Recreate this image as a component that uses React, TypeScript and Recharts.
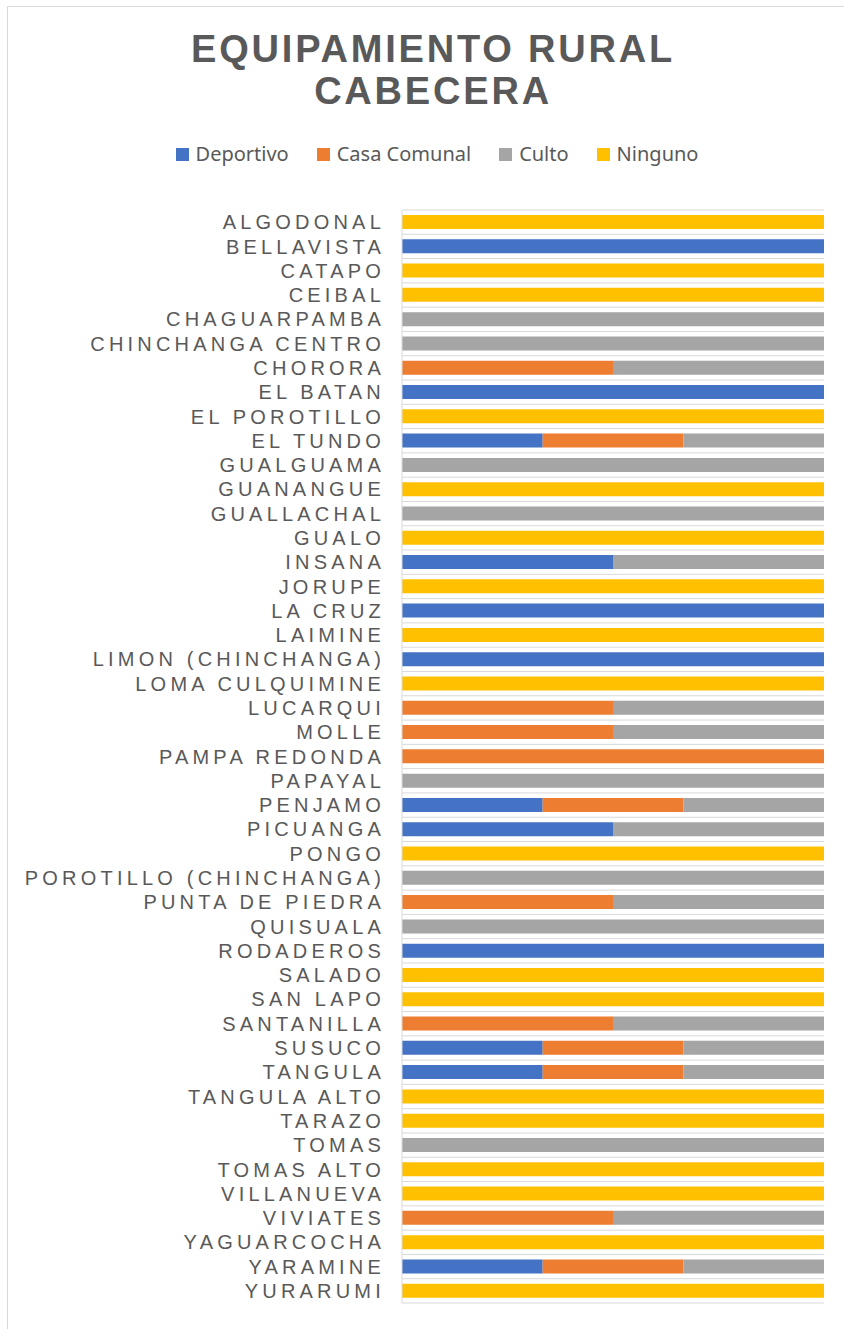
import React from 'react';
import { BarChart, Bar, XAxis, YAxis, CartesianGrid, Legend } from 'recharts';

// localidades, de arriba hacia abajo
const categories = [
  'ALGODONAL', 'BELLAVISTA', 'CATAPO', 'CEIBAL', 'CHAGUARPAMBA', 'CHINCHANGA CENTRO',
  'CHORORA', 'EL BATAN', 'EL POROTILLO', 'EL TUNDO', 'GUALGUAMA', 'GUANANGUE',
  'GUALLACHAL', 'GUALO', 'INSANA', 'JORUPE', 'LA CRUZ', 'LAIMINE',
  'LIMON (CHINCHANGA)', 'LOMA CULQUIMINE', 'LUCARQUI', 'MOLLE', 'PAMPA REDONDA', 'PAPAYAL',
  'PENJAMO', 'PICUANGA', 'PONGO', 'POROTILLO (CHINCHANGA)', 'PUNTA DE PIEDRA', 'QUISUALA',
  'RODADEROS', 'SALADO', 'SAN LAPO', 'SANTANILLA', 'SUSUCO', 'TANGULA',
  'TANGULA ALTO', 'TARAZO', 'TOMAS', 'TOMAS ALTO', 'VILLANUEVA', 'VIVIATES',
  'YAGUARCOCHA', 'YARAMINE', 'YURARUMI',
];

const deportivo = [
  0, 1, 0, 0, 0, 0, 0, 1, 0, 1, 0, 0, 0, 0, 1, 0, 1, 0, 1, 0, 0, 0, 0, 0,
  1, 1, 0, 0, 0, 0, 1, 0, 0, 0, 1, 1, 0, 0, 0, 0, 0, 0, 0, 1, 0,
];
const casaComunal = [
  0, 0, 0, 0, 0, 0, 1, 0, 0, 1, 0, 0, 0, 0, 0, 0, 0, 0, 0, 0, 1, 1, 1, 0,
  1, 0, 0, 0, 1, 0, 0, 0, 0, 1, 1, 1, 0, 0, 0, 0, 0, 1, 0, 1, 0,
];
const culto = [
  0, 0, 0, 0, 1, 1, 1, 0, 0, 1, 1, 0, 1, 0, 1, 0, 0, 0, 0, 0, 1, 1, 0, 1,
  1, 1, 0, 1, 1, 1, 0, 0, 0, 1, 1, 1, 0, 0, 1, 0, 0, 1, 0, 1, 0,
];
const ninguno = [
  1, 0, 1, 1, 0, 0, 0, 0, 1, 0, 0, 1, 0, 1, 0, 1, 0, 1, 0, 1, 0, 0, 0, 0,
  0, 0, 1, 0, 0, 0, 0, 1, 1, 0, 0, 0, 1, 1, 0, 1, 1, 0, 1, 0, 1,
];

const series = [
  { key: 'deportivo', name: 'Deportivo', color: '#4472C4' },
  { key: 'casaComunal', name: 'Casa Comunal', color: '#ED7D31' },
  { key: 'culto', name: 'Culto', color: '#A5A5A5' },
  { key: 'ninguno', name: 'Ninguno', color: '#FFC000' },
];

const data = categories.map((name, i) => ({
  name,
  deportivo: deportivo[i],
  casaComunal: casaComunal[i],
  culto: culto[i],
  ninguno: ninguno[i],
}));

const TEXT = '#595959';
const GRID = '#d9d9d9';
const MARGIN = { top: 210, right: 20, bottom: 26, left: 0 };

const renderLegend = () => (
  <div
    style={{
      display: 'flex',
      justifyContent: 'center',
      gap: 28,
      fontFamily: '"Noto Sans", sans-serif',
      fontSize: 20,
      lineHeight: '24px',
      color: TEXT,
    }}
  >
    {series.map((s) => (
      <span key={s.key} style={{ display: 'flex', alignItems: 'center' }}>
        <span style={{ width: 13, height: 13, background: s.color, marginRight: 7 }} />
        {s.name}
      </span>
    ))}
  </div>
);

export default function App() {
  const n = categories.length;
  return (
    <div style={{ position: 'absolute', top: 0, left: 0, width: 844, height: 1329, overflow: 'hidden', background: '#fff' }}>
      <div
        style={{
          position: 'absolute',
          left: 7,
          top: 6,
          width: 900,
          height: 1400,
          border: `1px solid ${GRID}`,
        }}
      />
      <div
        style={{
          position: 'absolute',
          left: 0,
          top: 28,
          width: 866,
          textAlign: 'center',
          fontFamily: '"Liberation Sans", Arial, sans-serif',
          fontWeight: 'bold',
          fontSize: 38,
          lineHeight: '42px',
          letterSpacing: 2.8,
          color: TEXT,
        }}
      >
        EQUIPAMIENTO RURAL
        <br />
        CABECERA
      </div>
      <div style={{ position: 'absolute', top: 0, left: 0 }}>
        <BarChart
          width={844}
          height={1329}
          data={data}
          layout="vertical"
          stackOffset="expand"
          margin={MARGIN}
          barSize={14}
        >
          <CartesianGrid
            vertical={false}
            stroke={GRID}
            horizontalCoordinatesGenerator={(props: any) => {
              const top = props?.offset?.top ?? MARGIN.top;
              const h = props?.offset?.height ?? 1329 - MARGIN.top - MARGIN.bottom;
              return Array.from({ length: n + 1 }, (_, i) => top + (i * h) / n);
            }}
          />
          <XAxis type="number" hide domain={[0, 1]} />
          <YAxis
            type="category"
            dataKey="name"
            width={402}
            interval={0}
            tickLine={false}
            tickSize={0}
            tickMargin={17}
            axisLine={{ stroke: GRID }}
            tick={{
              fill: TEXT,
              fontSize: 20,
              letterSpacing: 4.2,
              fontFamily: '"Liberation Sans", Arial, sans-serif',
            }}
          />
          <Legend
            layout="horizontal"
            verticalAlign="middle"
            align="center"
            content={renderLegend}
            wrapperStyle={{ top: 142, left: 0, width: 874 }}
          />
          {series.map((s) => (
            <Bar
              key={s.key}
              dataKey={s.key}
              name={s.name}
              stackId="a"
              fill={s.color}
              isAnimationActive={false}
            />
          ))}
        </BarChart>
      </div>
    </div>
  );
}
